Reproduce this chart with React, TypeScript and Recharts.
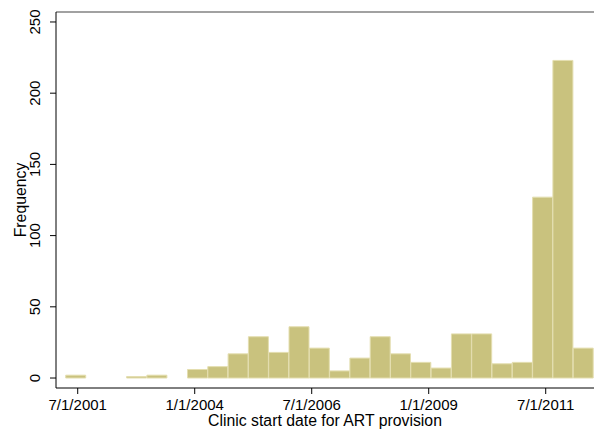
import { ComposedChart, Bar, XAxis, YAxis, ReferenceLine } from "recharts";

const FONT = "'Liberation Sans', Arial, Helvetica, sans-serif";
const FILL = "#c9c27e";
const EDGE = "#e4deb0";

// histogram counts, 26 equal-width bins
const counts = [2, 0, 0, 1, 2, 0, 6, 8, 17, 29, 18, 36, 21, 5, 14, 29, 17, 11, 7, 31, 31, 10, 11, 127, 223, 21];
const binStart = 2001.244; // decimal year of first bin's left edge
const binWidth = 0.4338; // years per bin

// date axis ticks (decimal years) and their labels
const dateTicks = [2001.5, 2004, 2006.5, 2009, 2011.5];
const dateLabels = ["7/1/2001", "1/1/2004", "7/1/2006", "1/1/2009", "7/1/2011"];
const freqTicks = [0, 50, 100, 150, 200, 250];

const data = counts.map((n, i) => ({ bin: i, mid: binStart + (i + 0.5) * binWidth, n }));

function YTick({ x, y, payload }: { x?: number; y?: number; payload?: { value: number } }) {
  const cx = (x ?? 0) - 13;
  return (
    <text
      x={cx}
      y={y}
      transform={`rotate(-90, ${cx}, ${y})`}
      textAnchor="middle"
      dominantBaseline="central"
      fontSize={15}
      fontFamily={FONT}
      fill="#000"
    >
      {payload?.value}
    </text>
  );
}

export default function App() {
  return (
    <div style={{ position: "fixed", left: 0, top: 0, background: "#fff" }}>
      <ComposedChart
        width={594}
        height={432}
        data={data}
        margin={{ top: 12, right: 0, bottom: 0, left: 0 }}
        barCategoryGap={0}
        barGap={0}
      >
        <XAxis
          xAxisId="date"
          dataKey="mid"
          type="number"
          domain={[2001.036, 2012.532]}
          ticks={dateTicks}
          interval={0}
          allowDataOverflow
          height={44}
          tickSize={6}
          tickMargin={5}
          tickLine={{ stroke: "#000" }}
          axisLine={{ stroke: "#000" }}
          tickFormatter={(v: number) => dateLabels[dateTicks.indexOf(v)] ?? ""}
          tick={{ fill: "#000", fontSize: 15, fontFamily: FONT }}
          label={{
            value: "Clinic start date for ART provision",
            position: "insideBottom",
            offset: 6,
            style: { fill: "#000", fontSize: 15.8, fontFamily: FONT },
          }}
        />
        <XAxis xAxisId="bins" dataKey="bin" type="category" hide height={0} padding={{ left: 9.7, right: 0.5 }} />
        <YAxis
          type="number"
          domain={[-7, 257]}
          ticks={freqTicks}
          allowDataOverflow
          width={56}
          tickSize={6}
          tickLine={{ stroke: "#000" }}
          axisLine={{ stroke: "#000" }}
          tick={<YTick />}
          label={{
            value: "Frequency",
            angle: -90,
            position: "insideLeft",
            offset: 20,
            style: { textAnchor: "middle", fill: "#000", fontSize: 15.8, fontFamily: FONT },
          }}
        />
        <ReferenceLine xAxisId="date" y={257} stroke="#444" strokeWidth={1.2} ifOverflow="visible" />
        <Bar
          xAxisId="bins"
          dataKey="n"
          fill={FILL}
          stroke={EDGE}
          strokeWidth={1}
          isAnimationActive={false}
        />
      </ComposedChart>
    </div>
  );
}
